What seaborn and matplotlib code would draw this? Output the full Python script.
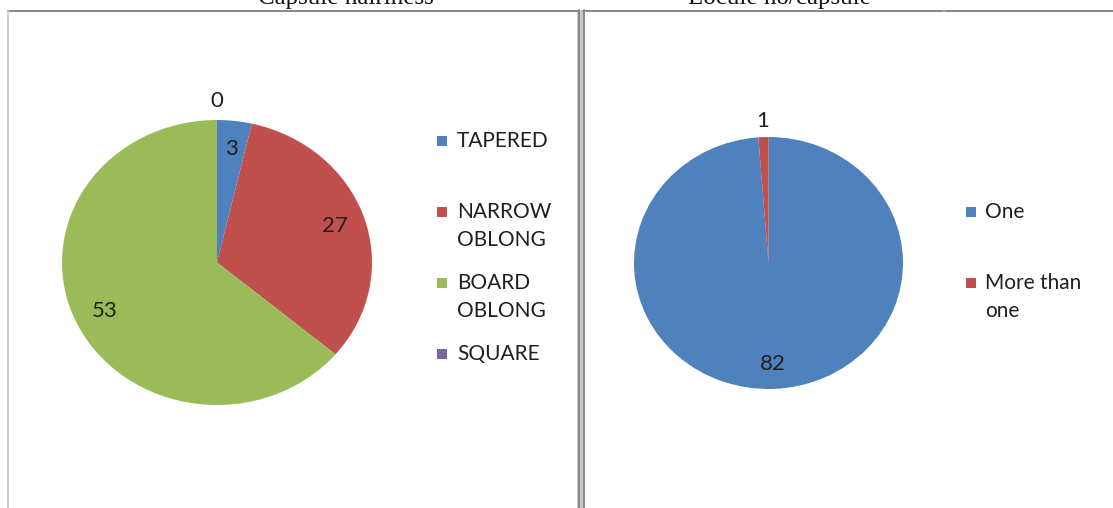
import matplotlib
matplotlib.use("Agg")
import matplotlib.pyplot as plt
import numpy as np
import seaborn as sns
from matplotlib.lines import Line2D
from matplotlib.patches import Rectangle

# Capsule hairiness
shape_labels = ["TAPERED", "NARROW\nOBLONG", "BOARD\nOBLONG", "SQUARE"]
shape_counts = [3, 27, 53, 0]
shape_colors = ["#4F81BD", "#C0504D", "#9BBB59", "#8064A2"]

# Locule number per capsule
locule_labels = ["One", "More than\none"]
locule_counts = [82, 1]
locule_colors = ["#4F81BD", "#C0504D"]

titles = ["Capsule hairiness", "Locule no/capsule"]

sns.set_theme(style="white")
plt.rcParams["font.family"] = ["Lato", "DejaVu Sans"]

W, H = 1113, 508
fig = plt.figure(figsize=(W / 100, H / 100), dpi=100)
fig.patch.set_facecolor("white")


def fx(x):
    return x / W


def fy(y):
    return 1 - y / H


def add_axes_px(x0, y0, x1, y1):
    return fig.add_axes([fx(x0), fy(y1), (x1 - x0) / W, (y1 - y0) / H])


TEXT_COLOR = "#1f1f1f"
FS = 15
FS_VAL = 16


def draw_pie(ax, counts, colors):
    wedges, _ = ax.pie(counts, colors=colors, startangle=90, counterclock=False,
                       radius=1.0, wedgeprops=dict(linewidth=0))
    ax.set_xlim(-1, 1)
    ax.set_ylim(-1, 1)
    ax.set_aspect("auto")
    ax.axis("off")
    total = sum(counts)
    for w, v in zip(wedges, counts):
        mid = np.deg2rad((w.theta1 + w.theta2) / 2)
        r = 1.13 if v / total < 0.02 else 0.8
        ax.text(r * np.cos(mid), r * np.sin(mid), f"{v}", ha="center",
                va="center", fontsize=FS_VAL, color=TEXT_COLOR, clip_on=False)


def draw_legend(labels, colors, x_sq, x_txt, y_first, step, line_gap=28):
    for i, (lab, col) in enumerate(zip(labels, colors)):
        yc = y_first + i * step
        fig.add_artist(Rectangle((fx(x_sq), fy(yc + 5)), 10 / W, 10 / H,
                                 transform=fig.transFigure, facecolor=col,
                                 edgecolor="none"))
        for j, line in enumerate(lab.split("\n")):
            fig.text(fx(x_txt), fy(yc + j * line_gap), line, ha="left",
                     va="center", fontsize=FS, color=TEXT_COLOR)


ax1 = add_axes_px(62, 120, 372, 405)
draw_pie(ax1, shape_counts, shape_colors)
draw_legend(shape_labels, shape_colors, 437, 457, 141, 71)

ax2 = add_axes_px(634, 137, 903, 389)
draw_pie(ax2, locule_counts, locule_colors)
draw_legend(locule_labels, locule_colors, 966, 985, 212, 71)

# Panel titles (partly above the frame)
for title, xc in zip(titles, [346, 779]):
    fig.text(fx(xc), fy(4), title, ha="center", va="baseline", fontsize=18,
             family="Liberation Serif", color="#111111")

# Panel frames
def hline(x0, x1, y, color="#8a8a8a", lw=2):
    fig.add_artist(Line2D([fx(x0), fx(x1)], [fy(y), fy(y)],
                          transform=fig.transFigure, color=color,
                          linewidth=lw * 72 / 100))


def vline(x, y0, y1, color="#8a8a8a", lw=2):
    fig.add_artist(Line2D([fx(x), fx(x)], [fy(y0), fy(y1)],
                          transform=fig.transFigure, color=color,
                          linewidth=lw * 72 / 100))


hline(8, 578, 10.5)
vline(8, 10, H, color="#c4c4c4", lw=1.5)
fig.add_artist(Rectangle((fx(577), 0), 8 / W, fy(10), transform=fig.transFigure,
                         facecolor="#c8c8c8", edgecolor="none"))
vline(578.5, 10, H)
vline(583.5, 10, H)
hline(583, 943, 10.5)
hline(945, W, 11)

fig.savefig("out.png", dpi=100, facecolor="white")
